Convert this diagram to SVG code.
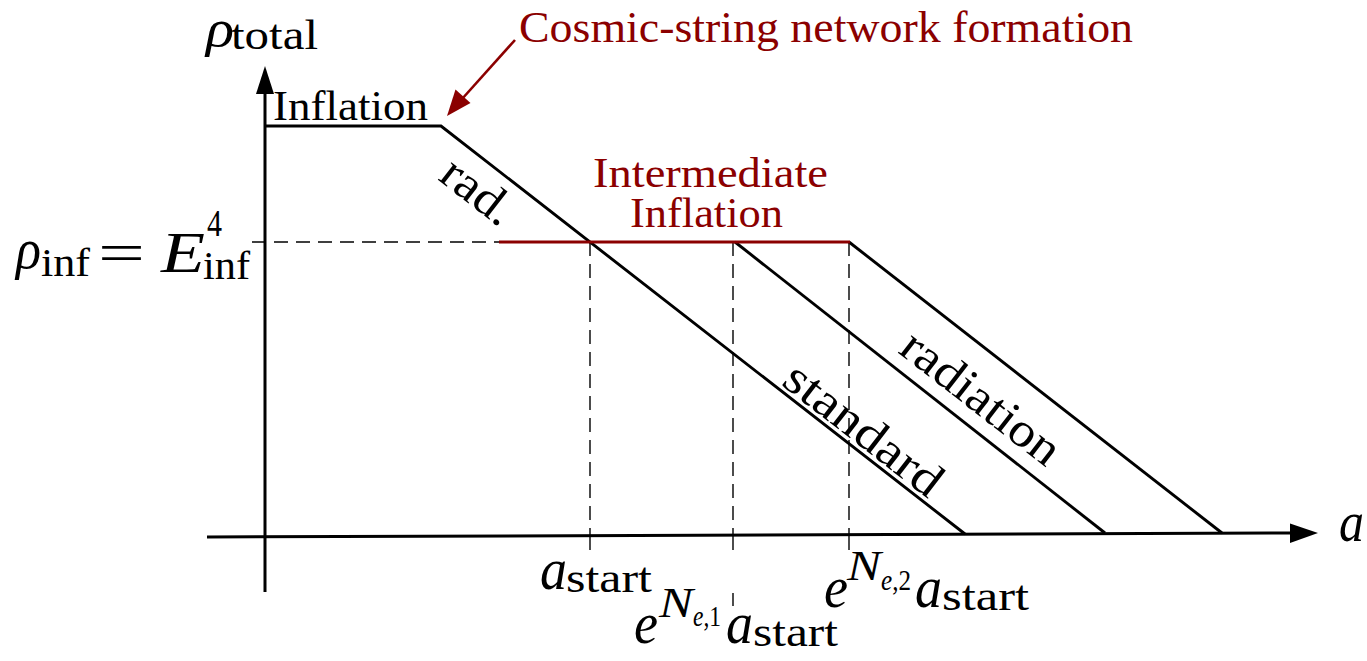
<svg xmlns="http://www.w3.org/2000/svg" width="1367" height="661" viewBox="0 0 1367 661" font-family="'Liberation Serif', 'DejaVu Serif', 'Times New Roman', serif">
<style>
  text { font-family: 'Liberation Serif', 'DejaVu Serif', 'Times New Roman', serif; fill: #000; }
  .it { font-style: italic; }
  .red { fill: #8B0000; }
  .axis { stroke: #000; stroke-width: 3; fill: none; }
  .curve { stroke: #000; stroke-width: 2.9; fill: none; stroke-linejoin: miter; }
  .redline { stroke: #8B0000; stroke-width: 3; fill: none; }
  .dash { stroke: #000; stroke-width: 1.4; fill: none; stroke-dasharray: 14 8; }
  .tick { stroke: #000; stroke-width: 1.4; fill: none; }
</style>
<rect width="1367" height="661" fill="#fff"/>

<g id="connectors">
  <line class="axis" x1="265" y1="592" x2="265" y2="90"/>
  <polygon points="265,66 256,94 274,94" fill="#000"/>
  <line class="axis" x1="207" y1="537" x2="1294" y2="533"/>
  <polygon points="1318,533 1290,523.5 1290,543" fill="#000"/>

  <line class="dash" x1="252" y1="242" x2="499" y2="242"/>
  <line class="dash" x1="590" y1="242" x2="590" y2="533"/>
  <line class="dash" x1="733" y1="242" x2="733" y2="533"/>
  <line class="dash" x1="849" y1="242" x2="849" y2="533"/>
  <line class="tick" x1="590" y1="533" x2="590" y2="550"/>
  <line class="tick" x1="733" y1="533" x2="733" y2="550"/>
  <line class="tick" x1="733" y1="593" x2="733" y2="606"/>
  <line class="tick" x1="849" y1="533" x2="849" y2="550"/>

  <polyline class="curve" points="265,126 441,126 965,534"/>
  <line class="curve" x1="735" y1="242" x2="1105" y2="533"/>
  <line class="curve" x1="849" y1="242" x2="1222" y2="533"/>
  <line class="redline" x1="499" y1="242" x2="850" y2="242"/>

  <line x1="515" y1="40" x2="462" y2="99" stroke="#8B0000" stroke-width="2.6"/>
  <polygon points="447,116 455.5,89.5 470.5,103" fill="#8B0000"/>
</g>

<g id="label-rho-total">
  <text class="it" x="206" y="46" font-size="52" textLength="28" lengthAdjust="spacingAndGlyphs">ρ</text>
  <text x="231" y="49" font-size="42" textLength="87" lengthAdjust="spacingAndGlyphs">total</text>
</g>

<g id="label-a">
  <text class="it" x="1339" y="541" font-size="56" textLength="25" lengthAdjust="spacingAndGlyphs">a</text>
</g>

<g id="node-inflation">
  <text x="273" y="120" font-size="43" textLength="155" lengthAdjust="spacingAndGlyphs">Inflation</text>
</g>

<g id="node-cosmic-string">
  <text class="red" x="519" y="42" font-size="44" textLength="614" lengthAdjust="spacingAndGlyphs">Cosmic-string network formation</text>
</g>

<g id="node-intermediate">
  <text class="red" x="593" y="187" font-size="43" textLength="235" lengthAdjust="spacingAndGlyphs">Intermediate</text>
  <text class="red" x="630" y="227" font-size="43" textLength="153" lengthAdjust="spacingAndGlyphs">Inflation</text>
</g>

<g id="label-rho-inf">
  <text class="it" x="16" y="268" font-size="58" textLength="25" lengthAdjust="spacingAndGlyphs">ρ</text>
  <text x="41" y="276" font-size="41" textLength="49" lengthAdjust="spacingAndGlyphs">inf</text>
  <text x="98" y="272" font-size="56" textLength="47" lengthAdjust="spacingAndGlyphs">=</text>
  <text class="it" x="161" y="272" font-size="56" textLength="44" lengthAdjust="spacingAndGlyphs">E</text>
  <text x="207" y="236" font-size="38" textLength="15" lengthAdjust="spacingAndGlyphs">4</text>
  <text x="203" y="279" font-size="41" textLength="47" lengthAdjust="spacingAndGlyphs">inf</text>
</g>

<g id="label-rad">
  <text transform="translate(437,179) rotate(37.8)" font-size="48" textLength="80" lengthAdjust="spacingAndGlyphs">rad.</text>
</g>

<g id="label-standard">
  <text transform="translate(780,384) rotate(37.8)" font-size="48" textLength="188" lengthAdjust="spacingAndGlyphs">standard</text>
</g>

<g id="label-radiation">
  <text transform="translate(897,352) rotate(37.8)" font-size="48" textLength="189" lengthAdjust="spacingAndGlyphs">radiation</text>
</g>

<g id="label-a-start">
  <text class="it" x="540" y="589" font-size="60" textLength="27" lengthAdjust="spacingAndGlyphs">a</text>
  <text x="566" y="592" font-size="42" textLength="86" lengthAdjust="spacingAndGlyphs">start</text>
</g>

<g id="label-e-N1">
  <text class="it" x="634" y="643" font-size="60" textLength="24" lengthAdjust="spacingAndGlyphs">e</text>
  <text class="it" x="659" y="617" font-size="42" textLength="34" lengthAdjust="spacingAndGlyphs">N</text>
  <text x="693" y="626" font-size="30" textLength="28" lengthAdjust="spacingAndGlyphs"><tspan class="it">e</tspan>,1</text>
  <text class="it" x="726" y="643" font-size="60" textLength="27" lengthAdjust="spacingAndGlyphs">a</text>
  <text x="753" y="646" font-size="42" textLength="85" lengthAdjust="spacingAndGlyphs">start</text>
</g>

<g id="label-e-N2">
  <text class="it" x="824" y="607" font-size="60" textLength="24" lengthAdjust="spacingAndGlyphs">e</text>
  <text class="it" x="847" y="580" font-size="42" textLength="34" lengthAdjust="spacingAndGlyphs">N</text>
  <text x="881" y="590" font-size="30" textLength="30" lengthAdjust="spacingAndGlyphs"><tspan class="it">e</tspan>,2</text>
  <text class="it" x="915" y="607" font-size="60" textLength="27" lengthAdjust="spacingAndGlyphs">a</text>
  <text x="942" y="610" font-size="42" textLength="87" lengthAdjust="spacingAndGlyphs">start</text>
</g>
</svg>
